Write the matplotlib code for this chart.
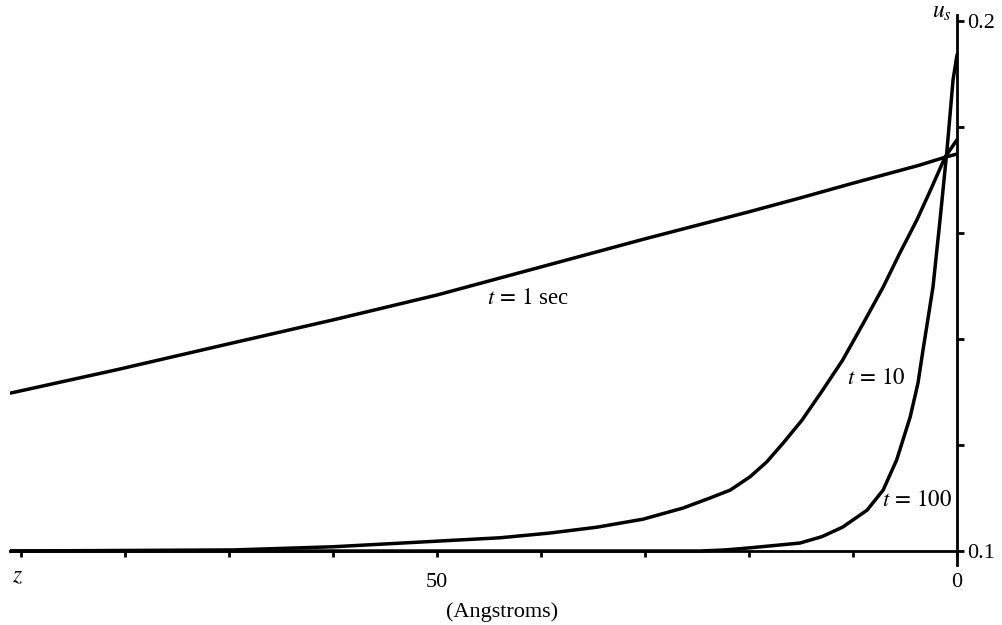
import matplotlib
matplotlib.use("Agg")
import matplotlib.pyplot as plt

plt.rcParams['font.family'] = ['Liberation Serif', 'DejaVu Serif']
plt.rcParams['mathtext.fontset'] = 'stix'

# depth z (Angstroms) and u_s values
z_t1 = [91.0, 80.8, 70.0, 60.0, 50.0, 40.0, 30.0, 20.0, 15.1, 10.0, 3.6, 1.15, 0.0]
u_t1 = [0.1298, 0.1342, 0.1391, 0.1436, 0.1483, 0.1536, 0.1589, 0.1640, 0.1666, 0.1694, 0.1728, 0.1743, 0.1749]

z_t10 = [91.0, 69.6, 60.0, 43.9, 39.1, 34.6, 30.2, 26.35, 23.75, 21.8, 19.9, 18.3, 16.7, 14.9,
         12.9, 11.0, 9.0, 7.1, 5.5, 3.85, 2.5, 1.15, 0.0]
u_t10 = [0.1000, 0.1002, 0.1008, 0.1025, 0.1034, 0.1045, 0.1060, 0.1081, 0.1100, 0.1115, 0.1140, 0.1168,
         0.1204, 0.1247, 0.1304, 0.1360, 0.1430, 0.1498, 0.1562, 0.1625, 0.1683, 0.1743, 0.1776]

z_t100 = [91.0, 24.7, 22.3, 19.9, 15.1, 13.0, 11.0, 8.65, 7.1, 5.8, 4.5, 3.75, 3.27, 2.31, 1.63, 0.96, 0.38, 0.0]
u_t100 = [0.1000, 0.1000, 0.1002, 0.1006, 0.1015, 0.1027, 0.1045, 0.1077, 0.1115, 0.1172, 0.1253, 0.1317,
          0.1379, 0.1498, 0.1625, 0.1757, 0.1889, 0.1936]

x_ticks = [90, 80, 70, 60, 50, 40, 30, 20, 10, 0]
x_ticklabels = ['', '', '', '', '50', '', '', '', '', '0']
y_ticks = [0.10, 0.12, 0.14, 0.16, 0.18, 0.20]
y_ticklabels = ['0.1', '', '', '', '', '0.2']

fig = plt.figure(figsize=(10.02, 6.25), dpi=100)
ax = fig.add_axes([10 / 1002, 60 / 625, 947 / 1002, 550 / 625])

lw = 2.5
for zz, uu in [(z_t1, u_t1), (z_t10, u_t10), (z_t100, u_t100)]:
    ax.plot(zz, uu, color='black', lw=lw, solid_capstyle='round', solid_joinstyle='round')

ax.set_xlim(91.06, 0)
ax.set_ylim(0.1 - 14 / 5300, 0.2 + 6 / 5300)

for s in ['left', 'top']:
    ax.spines[s].set_visible(False)
ax.spines['bottom'].set_position(('data', 0.1))
ax.spines['bottom'].set_linewidth(2.0)
ax.spines['right'].set_linewidth(2.0)

ax.yaxis.tick_right()
ax.set_xticks(x_ticks)
ax.set_xticklabels(x_ticklabels)
ax.set_yticks(y_ticks)
ax.set_yticklabels(y_ticklabels)
ax.tick_params(axis='x', direction='out', length=4, width=2, labelsize=16, pad=12)
ax.tick_params(axis='y', direction='out', length=5, width=2, labelsize=16, pad=2)

def u_at(py):
    return 0.1 + (551 - py) / 5300

def z_at(px):
    return (957 - px) / 10.4

ax.text(z_at(17), u_at(577), '$z$', fontsize=17, ha='center', va='center')
ax.text(z_at(942), u_at(12), '$u_s$', fontsize=17, ha='center', va='center')
ax.text(z_at(502), u_at(612), '(Angstroms)', fontsize=16, ha='center', va='center')

ax.text(z_at(528), u_at(299), '$t\\,=\\,1$ sec', fontsize=16.5, ha='center', va='center')
ax.text(z_at(876), u_at(378), '$t\\,=\\,10$', fontsize=16.5, ha='center', va='center')
ax.text(z_at(917), u_at(500), '$t\\,=\\,100$', fontsize=16.5, ha='center', va='center')

fig.savefig('out.png', dpi=100)
